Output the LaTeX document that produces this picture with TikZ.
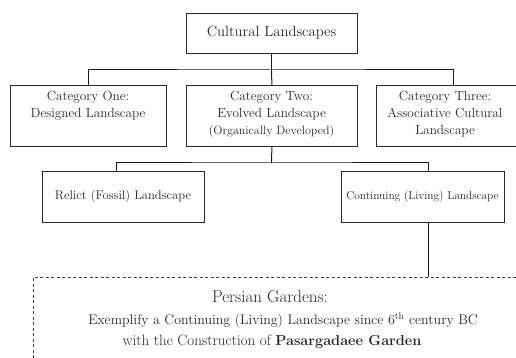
\documentclass[tikz,border=0pt]{standalone}
\begin{document}
\begin{tikzpicture}[x=1pt,y=-1pt,
  box/.style={draw=black!85,line width=0.8pt,inner sep=0pt,align=center,text=black!85},
  lbl/.style={align=center,text=black!85,inner sep=0pt},
  conn/.style={draw=black!90,line width=1pt},
  dashbox/.style={draw=black!75,line width=0.7pt,dash pattern=on 3pt off 2.5pt}]
\useasboundingbox (0,0) rectangle (516,358);
\node[box,minimum width=171pt,minimum height=40pt,font=\fontsize{14.7}{16}\selectfont] (top) at (271.5,33) {Cultural Landscapes};
\node[box,minimum width=156pt,minimum height=61pt,anchor=north west] (c1) at (10,85) {};
\node[lbl,font=\fontsize{13.2}{17}\selectfont,anchor=north] (c1t) at (88,91) {Category One:\\Designed Landscape};
\node[box,minimum width=171pt,minimum height=61pt,anchor=north west] (c2) at (186,85) {};
\node[lbl,font=\fontsize{13.2}{17}\selectfont,anchor=north] (c2t) at (271.5,91) {Category Two:\\Evolved Landscape\\{\fontsize{12}{17}\selectfont(Organically Developed)}};
\node[box,minimum width=141pt,minimum height=61pt,anchor=north west] (c3) at (376,85) {};
\node[lbl,font=\fontsize{13.2}{17}\selectfont,anchor=north] (c3t) at (445,91) {Category Three:\\Associative Cultural\\Landscape};
\node[box,minimum width=162pt,minimum height=51pt,font=\fontsize{12.6}{14}\selectfont] (r1) at (123,196.5) {Relict (Fossil) Landscape};
\node[box,minimum width=163pt,minimum height=51pt,font=\fontsize{11.4}{13}\selectfont] (r2) at (422.5,196.5) {Continuing (Living) Landscape};
\coordinate (dtop) at (428,277);
\draw[dashbox] (33,358) -- (33,277) -- (516,277);
\node[lbl,font=\fontsize{17}{18}\selectfont] (pg) at (270,297) {Persian Gardens:};
\node[lbl,font=\fontsize{13.9}{15}\selectfont] (ex) at (283,320) {Exemplify a Continuing (Living) Landscape since 6\textsuperscript{th} century BC};
\node[lbl,font=\fontsize{15}{16}\selectfont] (wc) at (272,342) {with the Construction of {\fontsize{14.5}{16}\selectfont\bfseries Pasargadaee Garden}};
\draw[conn] (top.south) -- (271.5,70);
\draw[conn] (c1.north -| 88,0) |- (271.5,70) -| (c3.north -| 453,0);
\draw[conn] (271.5,70) -- (c2.north);
\draw[conn] (c2.south) -- (271.5,163);
\draw[conn] (r1.north -| 116,0) |- (271.5,163) -| (r2.north -| 428,0);
\draw[conn] (r2.south -| 428,0) -- (dtop);
\end{tikzpicture}
\end{document}
